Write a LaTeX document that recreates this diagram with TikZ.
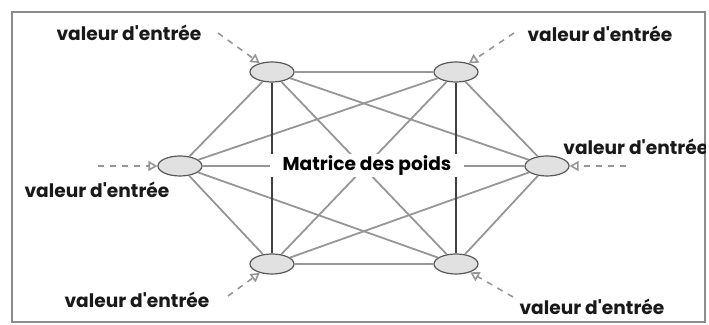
\documentclass[tikz,border=0pt]{standalone}
\usepackage{fontspec}
\setmainfont{Poppins}[Ligatures=TeXOff]
\usepackage{xcolor}
\usepackage{tikz}
\usetikzlibrary{arrows.meta, shapes.geometric}
\definecolor{framegray}{RGB}{140, 140, 140}
\definecolor{linkgray}{RGB}{150, 150, 150}
\definecolor{cellfill}{RGB}{225, 225, 225}

\begin{document}
\begin{tikzpicture}[
  x=0.5pt, y=-0.5pt,
  font=\bfseries\fontsize{9.3}{10}\selectfont,
  neurone/.style={ellipse, draw=black!65, fill=cellfill, line width=0.6pt, minimum width=22pt, minimum height=10pt, inner sep=0pt},
  lien/.style={draw=linkgray, line width=0.9pt},
  montant/.style={draw=black!75, line width=0.8pt},
  entree/.style={draw=linkgray, dashed, line width=0.8pt, -{Triangle[open, length=4.5pt, width=5pt, fill=white]}},
  etiquette/.style={inner sep=0pt, text=black!90}
]
\useasboundingbox (0,0) rectangle (709,325);
\draw[framegray, line width=1pt] (12,12) rectangle (705,322);

\node[neurone] (hg) at (272,72) {};
\node[neurone] (hd) at (456,72) {};
\node[neurone] (g) at (180,166) {};
\node[neurone] (d) at (547,166) {};
\node[neurone] (bg) at (272,264) {};
\node[neurone] (bd) at (456,264) {};

\foreach \a/\b in {hg/g, hg/d, hg/bd, hd/d, hd/g, hd/bg, g/bg, g/bd, bg/d, bd/d}
  \draw[lien] (\a) -- (\b);
\draw[linkgray, line width=0.6pt] (hg) -- (hd);
\draw[linkgray, line width=1.4pt] (bg) -- (bd);
\draw[linkgray, line width=0.6pt] (g) -- (d);
\draw[montant] (hg) -- (bg);
\draw[montant] (hd) -- (bd);

\node[fill=white, inner sep=0pt, minimum width=97pt, minimum height=11.5pt] (matrice) at (367,166) {Matrice des poids};

\coordinate (e1) at (218,33);
\coordinate (e2) at (514,33);
\coordinate (e3) at (626,166);
\coordinate (e4) at (98,166);
\coordinate (e5) at (228,296);
\coordinate (e6) at (513,297);
\draw[entree] (e1) -- (hg);
\draw[entree] (e2) -- (hd);
\draw[entree] (e3) -- (d);
\draw[entree] (e4) -- (g);
\draw[entree] (e5) -- (bg);
\draw[entree] (e6) -- (bd);

\node[etiquette] (v1) at (129,33) {valeur d'entrée};
\node[etiquette] (v2) at (600,34) {valeur d'entrée};
\begin{scope}
  \clip (12,12) rectangle (705,322);
  \node[etiquette, anchor=west] (v3) at (563,147) {valeur d'entrée};
\end{scope}
\node[etiquette] (v4) at (97,190) {valeur d'entrée};
\node[etiquette] (v5) at (137,300) {valeur d'entrée};
\node[etiquette] (v6) at (592,307) {valeur d'entrée};
\end{tikzpicture}
\end{document}
